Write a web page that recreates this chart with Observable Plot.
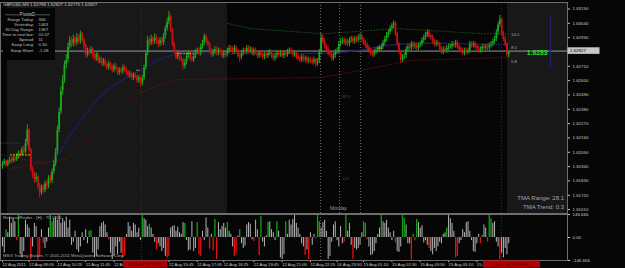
<!DOCTYPE html>
<html><head><meta charset="utf-8">
<script src="https://cdn.jsdelivr.net/npm/d3@7"></script>
<script src="https://cdn.jsdelivr.net/npm/@observablehq/plot@0.6"></script>
<style>
html,body{margin:0;padding:0;background:#060606;}
#wrap{position:relative;width:625px;height:268px;overflow:hidden;background:#060606;}
#wrap svg{position:absolute;left:0;}
</style></head><body><div id="wrap"></div>
<script>
// ---------- DATA ----------
const symbol = "GBPUSD,M5";
const firstOpen = 1.6194;
const closes = [1.6196,1.6198,1.6195,1.6197,1.6199,1.6198,1.6200,1.6199,1.6202,1.6204,
1.6203,1.6207,1.6205,1.6212,1.6222,1.6207,1.6192,1.6188,1.6184,1.6186,
1.6179,1.6174,1.6178,1.6176,1.6181,1.6179,1.6185,1.6183,1.6190,1.6196,
1.6205,1.6222,1.6236,1.6252,1.6260,1.6272,1.6276,1.6286,1.6291,1.6288,
1.6292,1.6289,1.6293,1.6290,1.6296,1.6291,1.6287,1.6280,1.6283,1.6281,
1.6284,1.6279,1.6277,1.6280,1.6275,1.6276,1.6273,1.6275,1.6272,1.6270,
1.6273,1.6270,1.6268,1.6271,1.6269,1.6266,1.6268,1.6267,1.6270,1.6268,
1.6266,1.6264,1.6265,1.6262,1.6264,1.6263,1.6260,1.6262,1.6258,1.6262,
1.6270,1.6281,1.6291,1.6289,1.6292,1.6290,1.6293,1.6290,1.6288,1.6291,
1.6289,1.6294,1.6300,1.6305,1.6309,1.6299,1.6288,1.6282,1.6278,1.6280,
1.6277,1.6276,1.6271,1.6274,1.6279,1.6281,1.6277,1.6276,1.6279,1.6282,
1.6283,1.6281,1.6286,1.6289,1.6294,1.6290,1.6288,1.6283,1.6280,1.6282,
1.6284,1.6281,1.6283,1.6282,1.6279,1.6281,1.6280,1.6283,1.6285,1.6284,
1.6282,1.6285,1.6283,1.6279,1.6278,1.6281,1.6283,1.6282,1.6285,1.6283,
1.6284,1.6281,1.6283,1.6282,1.6279,1.6281,1.6280,1.6278,1.6280,1.6279,
1.6281,1.6282,1.6279,1.6277,1.6279,1.6281,1.6280,1.6281,1.6279,1.6281,
1.6280,1.6282,1.6283,1.6282,1.6280,1.6281,1.6278,1.6277,1.6276,1.6278,
1.6276,1.6277,1.6275,1.6276,1.6275,1.6274,1.6276,1.6273,1.6275,1.6282,
1.6293,1.6290,1.6286,1.6284,1.6281,1.6280,1.6277,1.6279,1.6282,1.6283,
1.6288,1.6290,1.6291,1.6289,1.6290,1.6288,1.6291,1.6292,1.6290,1.6292,
1.6291,1.6293,1.6294,1.6291,1.6289,1.6287,1.6285,1.6283,1.6281,1.6280,
1.6282,1.6283,1.6284,1.6285,1.6286,1.6289,1.6292,1.6295,1.6297,1.6300,
1.6302,1.6304,1.6296,1.6288,1.6282,1.6276,1.6278,1.6279,1.6284,1.6286,
1.6285,1.6288,1.6286,1.6287,1.6285,1.6287,1.6288,1.6291,1.6293,1.6295,
1.6297,1.6294,1.6293,1.6290,1.6288,1.6289,1.6288,1.6284,1.6282,1.6284,
1.6283,1.6285,1.6286,1.6286,1.6288,1.6287,1.6289,1.6286,1.6284,1.6283,
1.6281,1.6283,1.6282,1.6283,1.6288,1.6287,1.6288,1.6286,1.6285,1.6283,
1.6284,1.6286,1.6285,1.6286,1.6285,1.6287,1.6288,1.6290,1.6292,1.6297,
1.6303,1.6307,1.6296,1.6292,1.6288,1.62798,1.62827];
const highs = [1.6198,1.6200,1.6199,1.6199,1.6201,1.6201,1.6202,1.6202,1.6204,1.6206,
1.6206,1.6209,1.6210,1.6215,1.6226,1.6223,1.6208,1.6194,1.6190,1.6189,
1.6187,1.6181,1.6180,1.6180,1.6183,1.6183,1.6187,1.6188,1.6192,1.6199,
1.6208,1.6225,1.6239,1.6255,1.6264,1.6275,1.6280,1.6289,1.6294,1.6293,
1.6295,1.6294,1.6296,1.6295,1.6298,1.6297,1.6293,1.6288,1.6285,1.6285,
1.6286,1.6285,1.6281,1.6282,1.6281,1.6278,1.6278,1.6277,1.6277,1.6274,
1.6275,1.6274,1.6272,1.6273,1.6273,1.6270,1.6270,1.6270,1.6272,1.6272,
1.6270,1.6268,1.6267,1.6266,1.6266,1.6266,1.6264,1.6264,1.6263,1.6264,
1.6272,1.6283,1.6294,1.6293,1.6295,1.6294,1.6296,1.6295,1.6292,1.6293,
1.6293,1.6296,1.6302,1.6308,1.6313,1.6311,1.6300,1.6290,1.6284,1.6282,
1.6282,1.6279,1.6277,1.6276,1.6281,1.6283,1.6283,1.6279,1.6281,1.6284,
1.6285,1.6285,1.6288,1.6291,1.6296,1.6295,1.6292,1.6289,1.6285,1.6284,
1.6286,1.6286,1.6285,1.6285,1.6283,1.6283,1.6283,1.6285,1.6287,1.6287,
1.6286,1.6287,1.6287,1.6284,1.6281,1.6283,1.6285,1.6285,1.6287,1.6287,
1.6286,1.6286,1.6285,1.6285,1.6283,1.6283,1.6283,1.6282,1.6282,1.6282,
1.6283,1.6284,1.6283,1.6281,1.6281,1.6283,1.6283,1.6283,1.6283,1.6283,
1.6283,1.6284,1.6285,1.6285,1.6284,1.6283,1.6282,1.6280,1.6279,1.6280,
1.6280,1.6279,1.6279,1.6278,1.6278,1.6277,1.6278,1.6277,1.6277,1.6284,
1.6296,1.6295,1.6292,1.6288,1.6286,1.6283,1.6282,1.6281,1.6284,1.6285,
1.6290,1.6292,1.6293,1.6293,1.6292,1.6292,1.6293,1.6294,1.6294,1.6294,
1.6294,1.6295,1.6296,1.6296,1.6293,1.6291,1.6289,1.6287,1.6285,1.6283,
1.6284,1.6285,1.6286,1.6287,1.6288,1.6291,1.6294,1.6297,1.6299,1.6302,
1.6304,1.6306,1.6305,1.6297,1.6289,1.6283,1.6280,1.6281,1.6286,1.6288,
1.6288,1.6290,1.6290,1.6289,1.6289,1.6289,1.6290,1.6293,1.6295,1.6297,
1.6299,1.6299,1.6296,1.6295,1.6292,1.6291,1.6291,1.6289,1.6286,1.6286,
1.6286,1.6287,1.6288,1.6288,1.6290,1.6290,1.6291,1.6291,1.6288,1.6286,
1.6285,1.6285,1.6285,1.6285,1.6290,1.6290,1.6290,1.6290,1.6288,1.6287,
1.6286,1.6288,1.6288,1.6288,1.6288,1.6289,1.6290,1.6292,1.6294,1.6299,
1.6305,1.6310,1.6308,1.6298,1.6294,1.6289,1.62827];
const lows = [1.6192,1.6195,1.6193,1.6194,1.6196,1.6196,1.6197,1.6197,1.6198,1.6200,
1.6201,1.6202,1.6203,1.6204,1.6210,1.6205,1.6190,1.6185,1.6181,1.6182,
1.6176,1.6170,1.6172,1.6173,1.6174,1.6176,1.6177,1.6181,1.6181,1.6188,
1.6194,1.6203,1.6220,1.6234,1.6249,1.6258,1.6269,1.6274,1.6284,1.6285,
1.6286,1.6286,1.6287,1.6288,1.6288,1.6289,1.6284,1.6277,1.6278,1.6279,
1.6280,1.6277,1.6275,1.6275,1.6273,1.6273,1.6271,1.6271,1.6270,1.6268,
1.6268,1.6268,1.6266,1.6266,1.6267,1.6264,1.6264,1.6265,1.6265,1.6266,
1.6264,1.6262,1.6262,1.6260,1.6260,1.6261,1.6258,1.6258,1.6255,1.6256,
1.6260,1.6268,1.6279,1.6286,1.6287,1.6287,1.6288,1.6288,1.6285,1.6286,
1.6287,1.6287,1.6292,1.6298,1.6303,1.6297,1.6286,1.6280,1.6276,1.6276,
1.6275,1.6274,1.6268,1.6269,1.6272,1.6277,1.6275,1.6274,1.6274,1.6277,
1.6280,1.6279,1.6279,1.6284,1.6287,1.6288,1.6286,1.6281,1.6278,1.6278,
1.6280,1.6279,1.6279,1.6280,1.6277,1.6277,1.6278,1.6278,1.6281,1.6282,
1.6280,1.6280,1.6281,1.6277,1.6274,1.6276,1.6279,1.6280,1.6280,1.6281,
1.6281,1.6279,1.6279,1.6280,1.6277,1.6277,1.6278,1.6276,1.6276,1.6277,
1.6277,1.6279,1.6277,1.6275,1.6275,1.6277,1.6278,1.6278,1.6277,1.6277,
1.6278,1.6278,1.6280,1.6280,1.6278,1.6278,1.6276,1.6275,1.6274,1.6274,
1.6274,1.6274,1.6273,1.6273,1.6273,1.6272,1.6272,1.6270,1.6271,1.6273,
1.6280,1.6288,1.6284,1.6282,1.6279,1.6278,1.6275,1.6275,1.6277,1.6280,
1.6281,1.6286,1.6288,1.6287,1.6287,1.6286,1.6286,1.6289,1.6288,1.6288,
1.6289,1.6289,1.6291,1.6289,1.6287,1.6285,1.6283,1.6281,1.6279,1.6278,
1.6278,1.6280,1.6281,1.6282,1.6283,1.6284,1.6287,1.6290,1.6293,1.6295,
1.6298,1.6300,1.6294,1.6286,1.6280,1.6273,1.6274,1.6276,1.6277,1.6282,
1.6283,1.6283,1.6284,1.6284,1.6283,1.6283,1.6285,1.6286,1.6289,1.6291,
1.6293,1.6292,1.6291,1.6288,1.6286,1.6286,1.6286,1.6282,1.6280,1.6280,
1.6281,1.6281,1.6283,1.6284,1.6284,1.6285,1.6285,1.6284,1.6282,1.6281,
1.6279,1.6279,1.6280,1.6280,1.6281,1.6285,1.6285,1.6284,1.6283,1.6281,
1.6281,1.6282,1.6283,1.6283,1.6283,1.6283,1.6285,1.6286,1.6288,1.6290,
1.6295,1.6301,1.6294,1.6290,1.6286,1.6278,1.62775];

// oscillator (lower panel)
const histValues = [-60,-100,50,30,130,90,120,100,-20,140,
-110,-130,-90,110,80,60,-140,-60,90,70,
-145,-120,50,-40,-70,-30,60,140,100,120,
130,110,140,90,120,100,130,60,110,-50,
-30,40,-80,-95,-60,30,-20,50,-40,40,
45,-100,-130,-120,-80,70,90,100,80,30,
-15,-100,-140,-120,-60,-110,-30,-100,-130,-120,
20,95,70,40,90,80,30,60,-20,140,
120,110,70,85,60,20,-30,-80,-40,-60,
-90,-70,-120,-130,-120,60,70,75,40,65,
30,20,95,90,-20,-85,-80,100,-90,-70,
95,-110,-120,40,-20,125,60,-75,20,-85,
115,-140,95,50,70,90,60,95,40,20,
-60,-120,-100,10,50,-40,-70,-55,80,95,
85,-15,-25,110,50,-115,135,-30,-60,10,
95,100,50,30,-20,100,40,-130,-140,-110,
100,20,110,80,115,140,90,60,20,-40,
-60,-115,-80,-140,30,-50,20,-10,140,100,
60,95,110,40,-140,-120,-30,80,100,-20,
-60,70,-40,-30,140,40,90,-50,-140,-70,
-80,-70,-50,30,100,90,-15,-60,-115,-110,
-90,-40,20,60,140,100,90,110,60,30,
-20,40,-35,-90,-95,-60,140,120,80,-40,
-40,-145,20,-20,115,95,60,75,-35,-20,
-50,-70,-90,-110,-70,-90,-60,-30,-40,20,
30,60,140,120,90,40,-130,-120,-40,-20,
50,30,95,100,40,-20,-90,-95,-40,20,
-40,15,80,60,-30,140,120,90,100,-30,
-60,-140,-100,-130,-70,-110,-40];
const greenBars = [2,9,27,28,49,50,79,83,103,110,120,127,134,146,150,155,160,178,179,194,204,205,214,226,227,232,234,251,271,275,276];
const redBars = [8,16,20,21,23,60,68,69,87,93,94,111,112,117,119,121,131,132,142,145,171,173,177,193,198,206,222,231,233,241,256,257,270,274,281];

// TMA bands (bar index, price)
const upperIdx = [-1.1,10.2, 127.1,140.1,181.4,202.3,223.2,271.8,285.3];
const upperVal = [1.6212,1.6212, 1.6304,1.6300,1.6296,1.6298,1.6300,1.6296,1.6296];
const upperSeg = [0,0, 1,1,1,1,1,1,1];
const lowerIdx = [-1.1,10,25.4, 4.5,36.7,74,96.6,145.8,179.7,202.3,230.5,285.3];
const lowerVal = [1.62033,1.6200,1.61964, 1.61925,1.62002,1.62486,1.62609,1.62616,1.62624,1.62678,1.62755,1.62778];
const lowerSeg = [0,0,0, 1,1,1,1,1,1,1,1,1];
const midIdx = [29,33,38,44,50,55,61,67,72,78,84,89,95,101,140,191,202,223,253,285];
const midVal = [1.61964,1.62064,1.62179,1.62294,1.62394,1.62478,1.62547,1.62601,1.62639,1.62678,1.62732,1.6277,1.62793,1.62808,1.62808,1.62808,1.62831,1.62893,1.62885,1.62877];

// pivot dashes: [from bar, to bar, price]
const pivotFrom = [4.5, 76, 99, 212];
const pivotTo = [15.8, 78, 108, 215];
const pivotPrice = [1.6203, 1.6268, 1.6281, 1.6285];

// sessions and separators (bar index)
const sessionStart = [2.8, 285.3];
const sessionEnd = [127.1, 319.2];
const separators = [179.7, 190.4, 202.3];
const crosshairs = [78.5, 281.9];
const tmaMarker = {i: 309.6, y1: 1.6309, y2: 1.6270};

// axes
const priceTicks = [1.6315,1.6304,1.6293,1.6271,1.6260,1.6249,1.6238,1.6227,1.6216,1.6205,1.6194,1.6183,1.6172,1.6161];
const histTicks = [146.666, 0, -146.666];
const histTickLabels = ["146.666", "0.00", "-146.666"];
const timeIdx = [0,15,31,47,63,79,94,110,125,142,158,174,189,204,220,236,252,268,284];
const timeLabels = ["12 Aug 2011","12 Aug 09:05","12 Aug 10:25","12 Aug 11:45","12 Aug 13:05","12 Aug 14:25","12 Aug 15:45","12 Aug 17:05","12 Aug 18:25","12 Aug 19:45","12 Aug 21:05","12 Aug 22:25","14 Aug 23:50","15 Aug 01:10","15 Aug 02:30","15 Aug 03:50","15 Aug 05:10","15 Aug 06:30","15 Aug 07:50"];

// info panel
const infoLabels = ["Range Today:", "Yesterday:", "30 Day Range:", "Time to next bar:", "Spread:", "Swap Long:", "Swap Short:"];
const infoValues = ["366", "1463", "1367", "01:07", "11", "0.30", "-1.08"];
const tmaLevels = ["14.2", "8.5", "5.8"];
const tmaRange = "28.1", tmaTrend = "0.3";

// ---------- BUILD ----------
const FONT = "Liberation Sans, Arial, sans-serif";
const bull = "#1fa81f", bear = "#c81212";
const N = closes.length;
const bars = closes.map((c, i) => ({i, o: i ? closes[i - 1] : firstOpen, h: highs[i], l: lows[i], c}));
const last = bars[N - 1];
const xDomain = [-1.13, 319.2];
const upper = upperIdx.map((i, k) => ({i, v: upperVal[k], s: upperSeg[k]}));
const lower = lowerIdx.map((i, k) => ({i, v: lowerVal[k], s: lowerSeg[k]}));
const mid = midIdx.map((i, k) => ({i, v: midVal[k]}));
const pivots = pivotFrom.map((a, k) => ({a, b: pivotTo[k], p: pivotPrice[k]}));
const sessions = sessionStart.map((s, k) => ({s, e: sessionEnd[k]}));
const histData = histValues.map((v, i) => ({i, v, k: greenBars.includes(i) ? "g" : redBars.includes(i) ? "r" : "n"}));
const fmt = d3.format(".5f");

const main = Plot.plot({
  width: 625, height: 214, marginTop: 2, marginBottom: 1, marginLeft: 0, marginRight: 58,
  x: {domain: xDomain, axis: null},
  y: {domain: [1.6158, 1.6320], axis: null},
  style: {background: "transparent", color: "#c8c8c8", fontFamily: FONT, overflow: "visible"},
  marks: [
    Plot.rect(sessions, {x1: "s", x2: "e", fill: "#181818"}),
    Plot.ruleX(separators, {stroke: "#6a6a6a", strokeDasharray: "1,2"}),
    Plot.ruleX(crosshairs, {stroke: "#b00000", strokeDasharray: "1,2"}),
    Plot.ruleY([last.c], {stroke: "#8d98b2"}),
    Plot.line(upper, {x: "i", y: "v", z: "s", stroke: "#1b521b", strokeDasharray: "1,2", strokeWidth: 0.9}),
    Plot.line(lower, {x: "i", y: "v", z: "s", stroke: "#641414", strokeDasharray: "1,2", strokeWidth: 0.9}),
    Plot.line(mid, {x: "i", y: "v", stroke: "#1c1c66", strokeWidth: 1.3, curve: "basis"}),
    Plot.ruleX(bars, {filter: d => d.c >= d.o, x: "i", y1: "l", y2: "h", stroke: bull, strokeWidth: 1}),
    Plot.ruleX(bars, {filter: d => d.c < d.o, x: "i", y1: "l", y2: "h", stroke: bear, strokeWidth: 1}),
    Plot.ruleX(bars, {filter: d => d.c >= d.o, x: "i", y1: "o", y2: "c", stroke: bull, strokeWidth: 1.8, insetTop: -0.4, insetBottom: -0.4}),
    Plot.ruleX(bars, {filter: d => d.c < d.o, x: "i", y1: "o", y2: "c", stroke: bear, strokeWidth: 1.8, insetTop: -0.4, insetBottom: -0.4}),
    Plot.ruleY(pivots, {y: "p", x1: "a", x2: "b", stroke: "#d6c200", strokeDasharray: "2,1"}),
    Plot.ruleX([tmaMarker], {x: "i", y1: "y1", y2: "y2", stroke: "#20206e", strokeWidth: 1.2}),
    Plot.text([last], {x: "i", y: "c", text: d => d.c.toFixed(4), dx: 18, dy: 2, textAnchor: "start", fill: "#2ee02e", fontWeight: "bold", fontSize: 6.8}),
    Plot.axisY({anchor: "right", ticks: priceTicks, tickFormat: fmt, tickSize: 2, tickPadding: 3, fontSize: 4.4, label: null}),
    Plot.frame({stroke: "#6e6e6e"})
  ]
});
main.style.top = "0px";

const hist = Plot.plot({
  width: 625, height: 55, marginTop: 1, marginBottom: 8, marginLeft: 0, marginRight: 58,
  x: {domain: xDomain, axis: null},
  y: {domain: [-146.666, 146.666], axis: null},
  style: {background: "transparent", color: "#c8c8c8", fontFamily: FONT, overflow: "visible"},
  marks: [
    Plot.ruleX(separators.slice(0, 1), {stroke: "#6a6a6a", strokeDasharray: "1,2"}),
    Plot.ruleX(crosshairs, {stroke: "#b00000", strokeDasharray: "1,2"}),
    Plot.ruleX(histData, {filter: d => d.k === "n", x: "i", y1: 0, y2: "v", stroke: "#b4b4b4", strokeWidth: 1}),
    Plot.ruleX(histData, {filter: d => d.k === "g", x: "i", y1: 0, y2: "v", stroke: "#14a014", strokeWidth: 1.3}),
    Plot.ruleX(histData, {filter: d => d.k === "r", x: "i", y1: 0, y2: "v", stroke: "#e81010", strokeWidth: 1.3}),
    Plot.axisY({anchor: "right", ticks: histTicks, tickFormat: d => histTickLabels[histTicks.indexOf(d)], tickSize: 2, tickPadding: 3, fontSize: 4.4, label: null}),
    Plot.axisX({anchor: "bottom", ticks: timeIdx, tickFormat: d => timeLabels[timeIdx.indexOf(d)], textAnchor: "start", tickSize: 2, tickPadding: 1, fontSize: 4.2, label: null}),
    Plot.frame({stroke: "#6e6e6e"})
  ]
});
hist.style.top = "213px";

const wrap = document.getElementById("wrap");
wrap.appendChild(main);
wrap.appendChild(hist);

// ---------- OVERLAY TEXT ----------
const yPrice = main.scale("y").apply(last.c);
const ov = d3.select(wrap).append("svg").attr("width", 625).attr("height", 268)
  .style("top", "0px").style("font-family", FONT);
function txt(x, y, s, size, fill, anchor, weight) {
  return ov.append("text").attr("x", x).attr("y", y).attr("font-size", size).attr("fill", fill)
    .attr("text-anchor", anchor || "start").attr("font-weight", weight || "normal").text(s);
}
// header
txt(3, 5.6, `${symbol}  ${fmt(bars[N-1].o)} ${fmt(last.h)} ${fmt(last.l)} ${fmt(last.c)}`, 4.4, "#d0d0d0");
// info panel
ov.append("rect").attr("x", 3).attr("y", 8).attr("width", 52).attr("height", 52).attr("fill", "#050505");
ov.append("line").attr("x1", 5).attr("x2", 19).attr("y1", 14.8).attr("y2", 14.8).attr("stroke", "#8a8a8a").attr("stroke-width", 0.6);
ov.append("line").attr("x1", 36).attr("x2", 50).attr("y1", 14.8).attr("y2", 14.8).attr("stroke", "#8a8a8a").attr("stroke-width", 0.6);
txt(27.5, 16.4, "PivotsD", 4.6, "#c4c4c4", "middle");
const rowY = [21, 26, 31, 36, 41, 46, 52];
infoLabels.forEach((s, k) => {
  txt(34, rowY[k], s, 4.3, "#c0c0c0", "end");
  txt(38.5, rowY[k], infoValues[k], 4.3, "#c0c0c0");
});
// in-chart labels
txt(338.5, 210, "Monday", 4.8, "#9a9a9a", "middle");
txt(346, 98, "SPV", 4.2, "#454545", "middle");
txt(346, 180, "D3i", 4.2, "#454545", "middle");
[36, 49, 63].forEach((y, k) => txt(511, y, tmaLevels[k], 4.3, "#a8a8a8"));
txt(564, 199.5, `TMA Range: ${tmaRange}`, 6, "#a6a6a6", "end");
txt(564, 208.5, `TMA Trend: ${tmaTrend}`, 6, "#a6a6a6", "end");
// current price box
ov.append("rect").attr("x", 567.5).attr("y", yPrice - 3.3).attr("width", 32).attr("height", 6.6).attr("fill", "#c6c6c6");
txt(570, yPrice + 1.6, fmt(last.c), 4.4, "#000");
// lower panel texts
txt(3, 219, "ReversalFinder - (H) - 75.1316", 4.3, "#b0b0b0");
txt(3, 257.3, "MSG Trading Station, \u00a9 2001-2011 MetaQuotes Software Corp.", 4.3, "#b0b0b0");
// crosshair time boxes
[[123, 44, "2011.08.12 12:55"], [483, 57, "2011.08.15 06:55"]].forEach(([x, w, s]) => {
  ov.append("rect").attr("x", x).attr("y", 260.5).attr("width", w).attr("height", 7).attr("fill", "#b40000");
  txt(x + w / 2, 266, s, 4.4, "#3a0000", "middle");
});
</script></body></html>
